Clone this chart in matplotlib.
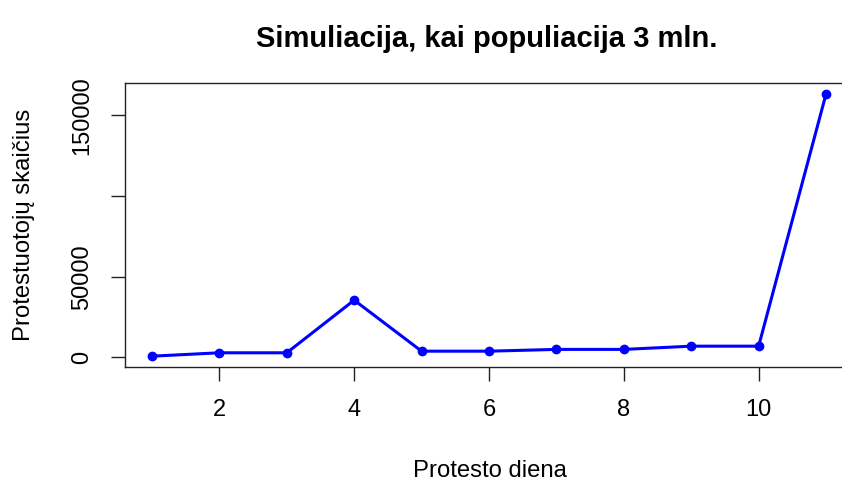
import matplotlib
matplotlib.use("Agg")
import matplotlib.pyplot as plt

# data
days = [1, 2, 3, 4, 5, 6, 7, 8, 9, 10, 11]
protesters = [800, 2900, 2900, 35500, 3900, 3900, 5000, 5000, 7000, 7000, 163200]

x_ticks = [2, 4, 6, 8, 10]
y_ticks = [0, 50000, 100000, 150000]
y_tick_labels = ["0", "50000", "", "150000"]

title = "Simuliacija, kai populiacija 3 mln."
x_label = "Protesto diena"
y_label = "Protestuotojų skaičius"

plt.rcParams["font.family"] = ["Liberation Sans", "DejaVu Sans"]

W, H = 842, 484
fig = plt.figure(figsize=(W / 100, H / 100), dpi=100)
fig.patch.set_facecolor("white")

# axes box in pixels (right edge runs past the image like the reference)
left, right, top, bottom = 125, 853, 83, 367
ax = fig.add_axes([left / W, 1 - bottom / H, (right - left) / W, (bottom - top) / H])

ax.plot(days, protesters, "-o", color="#0000ff", linewidth=2.2, markersize=6)

ax.set_xlim(0.6, 11.4)
ax.set_ylim(-5900, 170000)
ax.set_xticks(x_ticks)
ax.set_yticks(y_ticks)
ax.set_yticklabels(y_tick_labels, rotation=90, va="center")
ax.tick_params(axis="both", labelsize=17, length=10, width=1, color="#222222")
ax.tick_params(axis="x", pad=13)
ax.tick_params(axis="y", pad=13)
for spine in ax.spines.values():
    spine.set_color("#222222")
    spine.set_linewidth(1.0)

fig.text(487 / W, 1 - 47 / H, title, ha="center", va="baseline",
         fontsize=21, fontweight="bold")
fig.text(490 / W, 1 - 471 / H, x_label, ha="center", va="center", fontsize=17.2)
fig.text(24 / W, 1 - 225 / H, y_label, ha="center", va="center",
         rotation=90, fontsize=17.2)

fig.savefig("out.png", dpi=100, facecolor="white")
